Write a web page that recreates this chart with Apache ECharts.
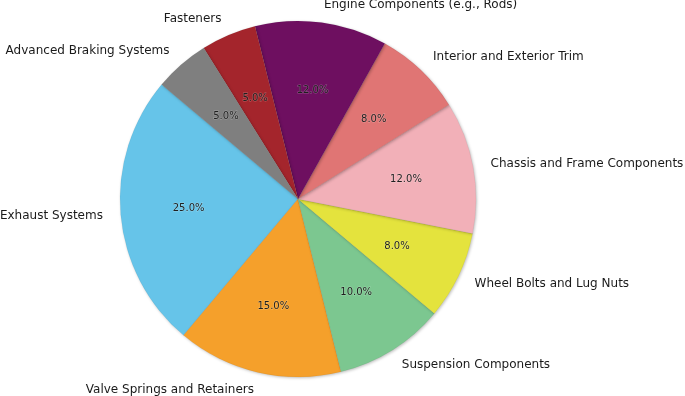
<!DOCTYPE html>
<html>
<head>
<meta charset="utf-8">
<script src="https://cdn.jsdelivr.net/npm/echarts@6/dist/echarts.min.js"></script>
<style>
  html, body { margin: 0; padding: 0; background: #fff; }
  #chart { width: 685px; height: 396px; }
</style>
</head>
<body>
<div id="chart"></div>
<script>
// slice order as drawn (counter-clockwise from 140°)
var categories = [
  "Exhaust Systems",
  "Valve Springs and Retainers",
  "Suspension Components",
  "Wheel Bolts and Lug Nuts",
  "Chassis and Frame Components",
  "Interior and Exterior Trim",
  "Engine Components (e.g., Rods)",
  "Fasteners",
  "Advanced Braking Systems"
];
var shares = [25, 15, 10, 8, 12, 8, 12, 5, 5];
var colors = [
  "#66c4e9", "#f5a02b", "#7cc790", "#e4e33d", "#f2b0b8",
  "#e07574", "#6e0f60", "#a4252c", "#7f7f7f"
];

var R = 178;
var center = [298, 199];

var chart = echarts.init(document.getElementById("chart"));

var sliceData = categories.map(function (name, i) {
  return { name: name, value: shares[i], itemStyle: { color: colors[i] } };
});

chart.setOption({
  animation: false,
  series: [
    {
      // slices + outside category labels
      type: "pie",
      center: center,
      radius: [0, R],
      startAngle: 140,
      clockwise: false,
      avoidLabelOverlap: false,
      data: sliceData,
      itemStyle: {
        borderColor: "rgba(0,0,0,0.08)",
        borderWidth: 0.6,
        shadowColor: "rgba(0,0,0,0.25)",
        shadowBlur: 3,
        shadowOffsetX: 1,
        shadowOffsetY: 1
      },
      label: {
        show: true,
        position: "outside",
        distanceToLabelLine: 0,
        fontFamily: "DejaVu Sans",
        fontSize: 12,
        color: "#1a1a1a",
        formatter: "{b}"
      },
      labelLine: { show: false, length: R * 0.1, length2: 0 },
      emphasis: { disabled: true }
    },
    {
      // percentage labels at 0.6 R
      type: "pie",
      center: center,
      radius: [R * 0.2, R],
      startAngle: 140,
      clockwise: false,
      silent: true,
      avoidLabelOverlap: false,
      data: categories.map(function (name, i) {
        return { name: name, value: shares[i] };
      }),
      itemStyle: { color: "rgba(0,0,0,0)" },
      label: {
        show: true,
        position: "inside",
        fontFamily: "DejaVu Sans",
        fontSize: 10,
        color: "#1f1f1f",
        textBorderColor: "rgba(255,255,255,0.25)",
        textBorderWidth: 1,
        formatter: function (p) { return p.value.toFixed(1) + "%"; }
      },
      labelLine: { show: false },
      emphasis: { disabled: true }
    }
  ]
});
</script>
</body>
</html>
